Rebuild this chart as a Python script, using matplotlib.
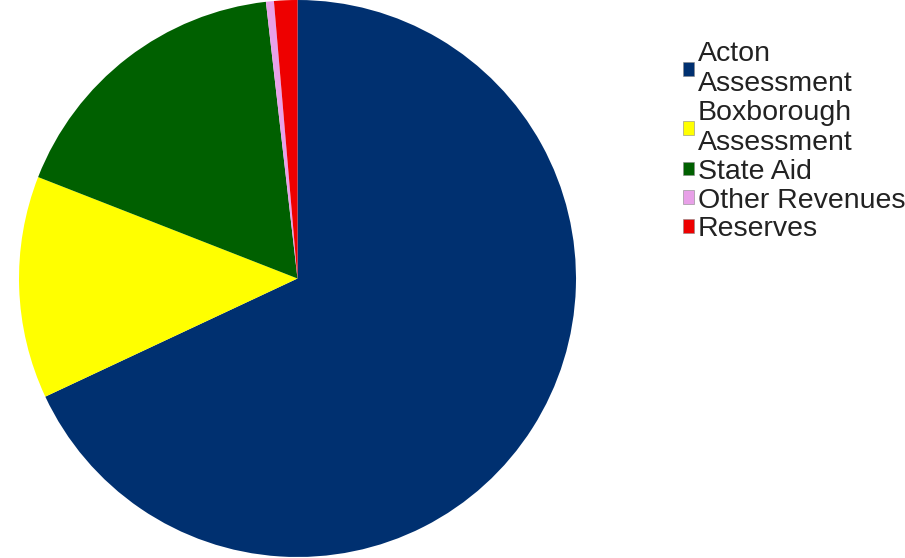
import matplotlib.pyplot as plt
from matplotlib.patches import Patch

plt.rcParams['font.family'] = ['Liberation Sans', 'DejaVu Sans']

labels = ["Acton\nAssessment", "Boxborough\nAssessment", "State Aid", "Other Revenues", "Reserves"]
shares = [68.0, 12.9, 17.25, 0.46, 1.35]
colors = ["#003070", "#ffff00", "#006000", "#e8a0e8", "#ee0000"]

fig = plt.figure(figsize=(9.05, 5.58), dpi=100)
ax = fig.add_axes([19 / 905, 1 / 558, 557 / 905, 557 / 558])
ax.pie(shares, colors=colors, startangle=90, counterclock=False,
       wedgeprops=dict(linewidth=0))
ax.set_xlim(-1, 1)
ax.set_ylim(-1, 1)
ax.set_aspect('equal')

handles = [Patch(facecolor=c, edgecolor='#888888', linewidth=0.4) for c in colors]
leg = fig.legend(handles, labels, loc='upper left', bbox_to_anchor=(683 / 905, 1 - 41 / 558),
                 frameon=False, fontsize=20.5, handlelength=0.37, handleheight=0.37,
                 handletextpad=0.14, labelspacing=0.1, borderaxespad=0, borderpad=0)
for t in leg.get_texts():
    t.set_linespacing(1.2)
    t.set_color('#222222')

fig.savefig("out.png", dpi=100)
